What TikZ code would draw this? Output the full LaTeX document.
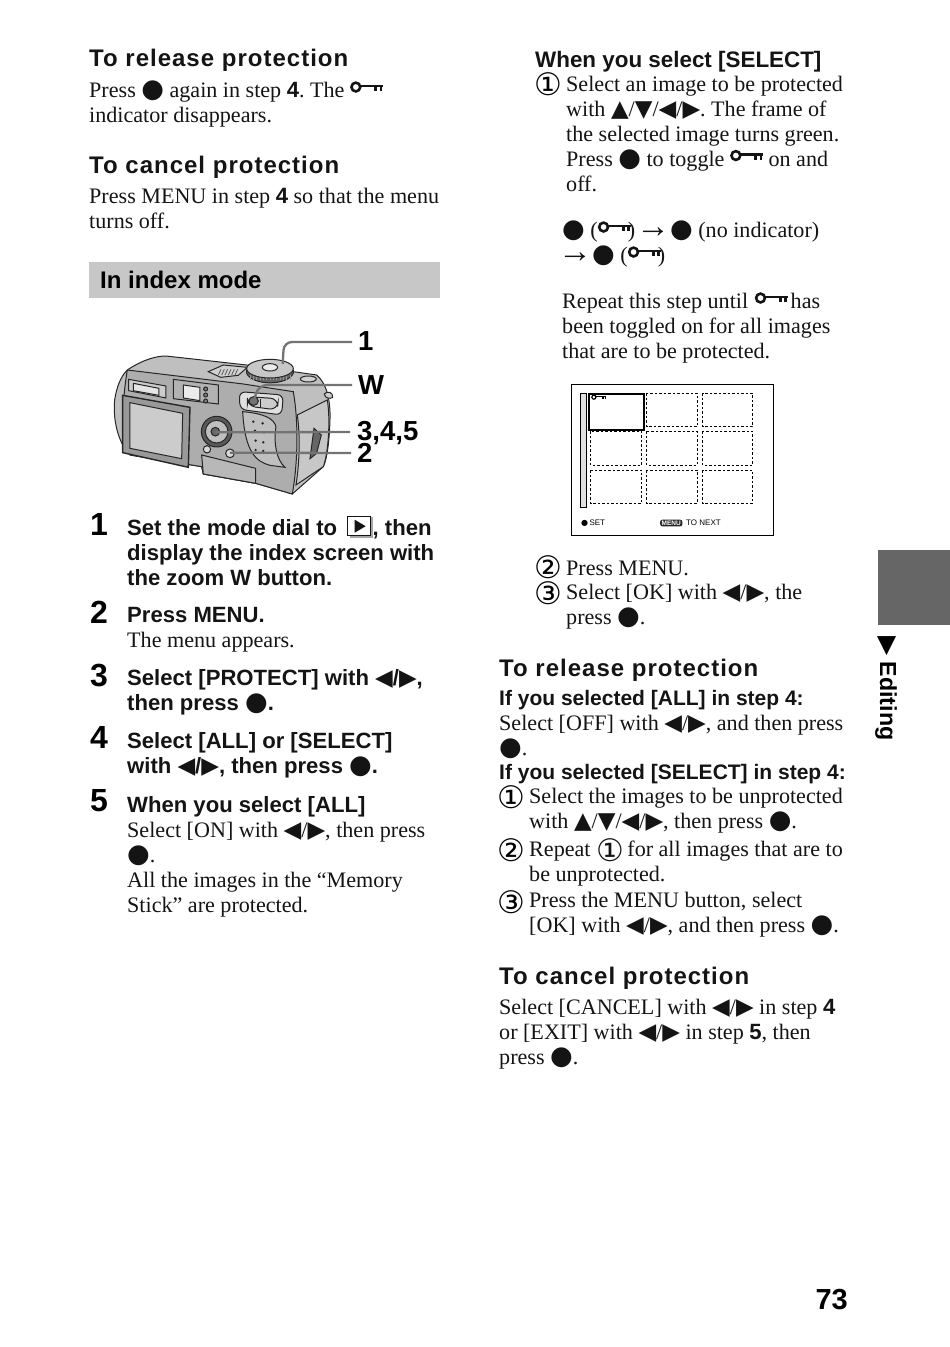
\documentclass[tikz,border=0pt]{standalone}
\usepackage{fontspec}
\setmainfont{Liberation Serif}
\setsansfont{Liberation Sans}
\newfontfamily\hdfont[LetterSpace=4.2]{Liberation Sans}
\newfontfamily\symfont{DejaVu Sans}
\usetikzlibrary{positioning}

\newcommand{\symsz}[2]{\smash{{\symfont\fontsize{#1}{#1}\selectfont #2}}}
\newcommand{\bulsym}{\symsz{26}{●}}
\newcommand{\upsym}{\symsz{23}{▲}}
\newcommand{\dnsym}{\symsz{23}{▼}}
\newcommand{\ltsym}{\symsz{23}{◀}}
\newcommand{\rtsym}{\symsz{23}{▶}}
\newcommand{\arrsym}{\smash{{\rmfamily\mdseries\fontsize{34}{34}\selectfont →}}}
\newcommand{\bd}[1]{{\sffamily\bfseries #1}}
\newcommand{\keyicon}{\tikz[baseline=0pt,x=1pt,y=1pt,line width=2.6pt]{
  \useasboundingbox (0,0) rectangle (33,10);
  \draw (5.8,10.5) circle (4.4);
  \draw (10,11.5) -- (33,11.5);
  \draw (25.5,11.5) -- (25.5,6.5);
  \draw (31,11.5) -- (31,6.5);}}
\newcommand{\playicon}{\tikz[baseline=-1pt,x=1pt,y=1pt]{
  \fill[black!35] (2,-3) rectangle (25,18);
  \draw[fill=white,line width=1pt] (0,-1) rectangle (23,18);
  \fill (7,2) -- (18,8.5) -- (7,15) -- cycle;}}

\begin{document}
\frenchspacing
\begin{tikzpicture}[x=1pt,y=-1pt,
  body/.style={anchor=north west,inner sep=0,align=left,text=black!92,
    font=\fontsize{22.1}{25}\selectfont,execute at begin node={\rule{0pt}{20.5pt}}},
  bold/.style={body,font=\fontsize{22.1}{25}\selectfont\sffamily\bfseries,execute at begin node={\rule{0pt}{18pt}}},
  subbold/.style={bold,font=\fontsize{21}{25}\selectfont\sffamily\bfseries},
  head/.style={body,font=\fontsize{24}{25}\selectfont\hdfont\bfseries,execute at begin node={\rule{0pt}{15pt}}},
  stepnum/.style={anchor=west,inner sep=0,font=\fontsize{32}{32}\selectfont\sffamily\bfseries},
  cnum/.style={anchor=base west,inner sep=0,font=\fontsize{31}{31}\selectfont\symfont},
  lab/.style={anchor=west,inner sep=0,font=\fontsize{27.5}{28}\selectfont\sffamily\bfseries},
  leader/.style={draw=black!55,line width=2.3pt,rounded corners=8pt},
  cam/.style={draw=black!85,line width=1pt},
  small/.style={inner sep=0,font=\fontsize{8}{8}\selectfont\sffamily},
]
\useasboundingbox (0,0) rectangle (950,1347);

% left column
\node[head] (relA) at (89,46) {To release protection};
\node[body] (relAtxt) at (89,82) {Press \bulsym{} again in step \bd{4}. The \keyicon\\indicator disappears.};
\node[head] (canA) at (89,153) {To cancel protection};
\node[body] (canAtxt) at (89,188) {Press MENU in step \bd{4} so that the menu\\turns off.};

\fill[black!22] (89,262) rectangle (440,298);
\node[anchor=west,inner sep=0,font=\fontsize{24}{25}\selectfont\sffamily\bfseries] (index) at (100,280) {In index mode};

% camera
\begin{scope}[shift={(90,320)},x=0.3333pt,y=-0.3333pt]
  \draw[cam,fill=black!25] (112,150) .. controls (160,118) and (200,108) .. (228,108) -- (470,135) -- (680,165)
    .. controls (710,190) and (722,240) .. (720,300) .. controls (718,370) and (710,420) .. (700,440)
    -- (607,522) -- (497,490) -- (340,462) -- (335,440) -- (120,405)
    .. controls (85,370) and (68,300) .. (74,240) .. controls (80,200) and (92,170) .. (112,150) -- cycle;
  \draw[cam,fill=black!32] (112,150) -- (460,192) -- (610,215) .. controls (625,300) and (625,420) .. (607,522)
    -- (497,490) -- (340,462) -- (335,440) -- (120,405) .. controls (100,370) and (90,280) .. (112,150);
  \draw[cam,fill=black!22] (622,285) -- (712,240) .. controls (722,300) and (715,400) .. (700,440) -- (618,495) .. controls (630,420) and (630,340) .. (622,285) -- cycle;
  % viewfinder and flash
  \draw[cam,fill=black!20] (116,178) -- (228,198) -- (228,234) -- (116,212) -- cycle;
  \draw[cam,fill=black!10] (130,190) -- (207,205) -- (207,226) -- (130,212) -- cycle;
  \draw[cam,fill=black!30] (250,178) -- (385,195) -- (385,252) -- (250,236) -- cycle;
  \draw[cam,fill=black!8] (280,195) -- (330,202) -- (330,242) -- (280,234) -- cycle;
  \foreach \yy in {207,225,243} \draw[cam,fill=black!50] (347,\yy) circle (6);
  % monitor
  \draw[cam,line width=1.4pt,fill=black!40] (98,226) -- (300,262) -- (295,442) -- (98,398) -- cycle;
  \draw[cam,fill=black!20] (120,248) -- (278,280) -- (275,416) -- (120,385) -- cycle;
  % speaker
  \draw[cam,fill=black!18] (355,155) -- (400,135) -- (472,142) -- (445,166) -- (392,172) -- cycle;
  \foreach \xx in {385,395,...,435} \draw[black!70,line width=.7pt] (\xx,165) -- (\xx+8,148);
  % dial
  \draw[cam,fill=black!60] (470,150) -- (470,160) .. controls (488,198) and (592,198) .. (610,160) -- (610,150) -- cycle;
  \foreach \xx in {480,490,...,600} \draw[white!60!black,line width=.6pt] (\xx,165) -- (\xx,180);
  \draw[cam,fill=black!22] (540,146) ellipse (70 and 28);
  \draw[cam,fill=black!8] (540,142) ellipse (23 and 11);
  \draw[cam,fill=black!18] (655,177) ellipse (24 and 9);
  % zoom lever
  \draw[cam,fill=black!12,rounded corners=6pt] (448,215) -- (580,225) -- (575,285) -- (450,268) -- cycle;
  \draw[cam,fill=black!20,rounded corners=8pt] (472,230) -- (565,236) -- (562,270) -- (472,258) -- cycle;
  \draw[cam,fill=black!55] (491,243) ellipse (14 and 13);
  \draw[black!85,line width=1pt] (512,238) -- (512,265);
  % grip panel
  \draw[cam,fill=black!25] (458,275) .. controls (520,280) and (552,295) .. (558,320) .. controls (550,370) and (560,420) .. (585,442)
    -- (540,436) .. controls (500,425) and (465,400) .. (458,275) -- cycle;
  \foreach \xx/\yy in {490/305,518/310,495/332,522/337,497/362,520/367,497/390,520/393} \fill[black!85] (\xx,\yy) circle (4);
  % control pad
  \draw[cam,fill=black!65] (380,335) circle (46);
  \draw[cam,fill=black!25] (380,335) circle (34);
  \draw[cam,fill=black!60] (376,335) circle (13);
  \draw[cam,fill=black!15] (351,388) circle (11);
  \draw[cam,fill=black!15] (420,400) circle (13);
  % card cover
  \draw[cam,fill=black!28] (335,405) -- (497,445) -- (497,490) -- (340,462) -- cycle;
  % strap lug and slide
  \draw[cam,fill=black!20] (703,222) .. controls (710,212) and (730,215) .. (728,232) .. controls (720,238) and (705,235) .. (703,222) -- cycle;
  \draw[cam,fill=black!60] (672,325) -- (694,345) -- (680,400) -- (660,416) -- cycle;
  \coordinate (dial) at (578,132);
  \coordinate (lever) at (492,240);
  \coordinate (pad) at (376,337);
  \coordinate (menu) at (420,398);
\end{scope}
\node[lab] (l1) at (358,341) {1};
\node[lab] (lW) at (358,385) {W};
\node[lab] (l345) at (357,433) {3,4,5};
\node[lab] (l2) at (357,453) {2};
\draw[leader] (l1.west)+(-6,1) -- (284,342) -- (dial);
\draw[leader] (lW.west)+(-6,0) -- (259,385) -- (lever);
\draw[leader] (l345.west)+(-7,-1) -- (pad);
\draw[leader] (l2.west)+(-6,0) -- (menu);

% steps
\node[stepnum] (s1) at (90,524) {1};
\node[bold] (s1txt) at (127,516) {Set the mode dial to\hspace{10pt}\playicon{}, then\\display the index screen with\\the zoom W button.};
\node[stepnum] (s2) at (90,612) {2};
\node[bold] (s2txt) at (127,602) {Press MENU.};
\node[body] (s2sub) at (127,626.5) {The menu appears.};
\node[stepnum] (s3) at (90,675) {3};
\node[bold] (s3txt) at (127,669) {Select [PROTECT] with \ltsym/\rtsym,\\then press \bulsym.};
\node[stepnum] (s4) at (90,737) {4};
\node[bold] (s4txt) at (127,732) {Select [ALL] or [SELECT]\\with \ltsym/\rtsym, then press \bulsym.};
\node[stepnum] (s5) at (90,801) {5};
\node[bold] (s5txt) at (127,792) {When you select [ALL]};
\node[body] (s5sub) at (127,822) {Select [ON] with \ltsym/\rtsym, then press\\\bulsym.\\All the images in the “Memory\\Stick” are protected.};

% right column
\node[bold,font=\fontsize{22.4}{25}\selectfont\sffamily\bfseries] (sel) at (535,47) {When you select [SELECT]};
\node[cnum] (sel1) at (534,95.5) {①};
\node[body] (sel1txt) at (566,75.5) {Select an image to be protected\\with \upsym/\dnsym/\ltsym/\rtsym. The frame of\\the selected image turns green.\\Press \bulsym{} to toggle \keyicon{} on and\\off.};
\node[body] (seq) at (562,222) {\bulsym{} (\keyicon\hspace{-3pt})\hspace{1pt}\arrsym\bulsym{} (no indicator)\\\hspace*{-4pt}\arrsym\bulsym{} (\keyicon\hspace{-3pt})};
\node[body] (rep) at (562,293) {Repeat this step until\hspace{1pt} \keyicon\hspace{3pt}has\\been toggled on for all images\\that are to be protected.};

% screen
\draw[black,line width=1pt] (571,384.5) rectangle (773,535.5);
\draw[black,fill=black!12,line width=.9pt] (580,393.5) rectangle (586,507);
\foreach \xa/\xb in {590.7/641.7,646.7/697.3,702.7/752.7}
  \foreach \ya/\yb in {393.3/426.7,431/465,470/503.3}
    \draw[black,dash pattern=on 2.5pt off 2pt,line width=.9pt] (\xa,\ya) rectangle (\xb,\yb);
\draw[black,fill=white,line width=2pt] (589,393.5) rectangle (644,430);
\node[inner sep=0,anchor=base west] (skey) at (591,402) {\scalebox{.46}{\keyicon}};
\node[small,anchor=west] (sset) at (581,523) {\symsz{8}{●}\,SET};
\node[small,anchor=west,fill=black!85,text=white,rounded corners=2pt,inner xsep=1.5pt,inner ysep=1pt,font=\fontsize{6.5}{6.5}\selectfont\sffamily\bfseries] (smenu) at (660,523) {MENU};
\node[small,anchor=west] (snext) at (686,523) {TO NEXT};

\node[cnum] (sel2) at (534,578.5) {②};
\node[body] (sel2txt) at (566,554.5) {Press MENU.};
\node[cnum] (sel3) at (534,604.5) {③};
\node[body] (sel3txt) at (566,583.5) {Select [OK] with \ltsym/\rtsym, the\\press \bulsym.};

\node[head] (relB) at (499,656) {To release protection};
\node[subbold] (relall) at (499,685) {If you selected [ALL] in step 4:};
\node[body] (relalltxt) at (499,715) {Select [OFF] with \ltsym/\rtsym, and then press\\\bulsym.};
\node[subbold] (relsel) at (499,759) {If you selected [SELECT] in step 4:};
\node[cnum] (rel1) at (497,808.5) {①};
\node[body] (rel1txt) at (529,787.5) {Select the images to be unprotected\\with \upsym/\dnsym/\ltsym/\rtsym, then press \bulsym.};
\node[cnum] (rel2) at (497,861.5) {②};
\node[body] (rel2txt) at (529,840.5) {Repeat \raisebox{-5pt}{\symsz{31}{①}}\hspace{-2pt} for all images that are to\\be unprotected.};
\node[cnum] (rel3) at (497,913.5) {③};
\node[body] (rel3txt) at (529,891.5) {Press the MENU button, select\\{}[OK] with \ltsym/\rtsym, and then press \bulsym.};
\node[head] (canB) at (499,964) {To cancel protection};
\node[body] (canBtxt) at (499,998.5) {Select [CANCEL] with \ltsym/\rtsym{} in step \bd{4}\\or [EXIT] with \ltsym/\rtsym{} in step \bd{5}, then\\press \bulsym.};

% side tab and page number
\fill[black!60] (877.5,550) rectangle (950,625);
\node[rotate=-90,anchor=west,inner sep=0,font=\fontsize{23.2}{23}\selectfont\sffamily\bfseries] (tab) at (886,636) {\symsz{25}{▶} Editing};
\node[anchor=base east,inner sep=0,font=\fontsize{29}{29}\selectfont\sffamily\bfseries] (page) at (848,1309) {73};
\end{tikzpicture}
\end{document}
